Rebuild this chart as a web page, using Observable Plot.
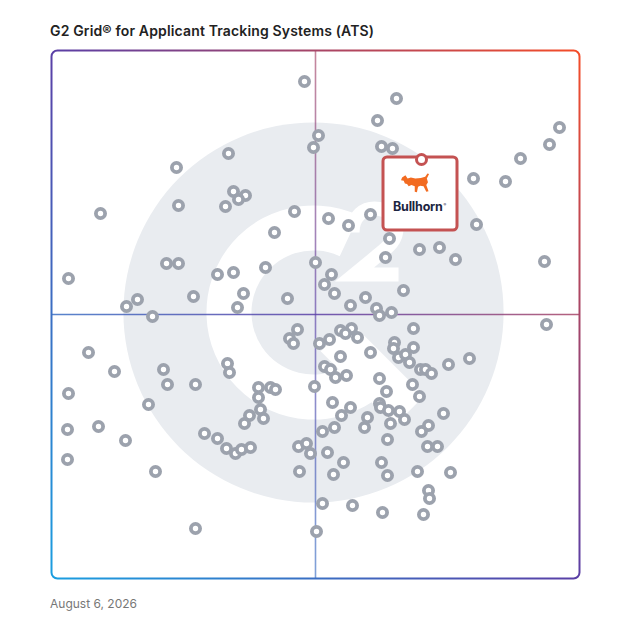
<!DOCTYPE html>
<html><head><meta charset="utf-8">
<script src="https://cdn.jsdelivr.net/npm/d3@7"></script>
<script src="https://cdn.jsdelivr.net/npm/@observablehq/plot@0.6"></script>
<style>
body{margin:0;background:#fff;}
#title{font:600 14px Inter,"Noto Sans",sans-serif;letter-spacing:0.15px;color:#222;padding:21px 0 0 50px;height:19px;line-height:19px;white-space:nowrap;}
#chart svg{display:block;}
#caption{font:400 12px Inter,"Noto Sans",sans-serif;color:#777;padding-left:50px;margin-top:6px;line-height:16px;}
</style></head><body>
<div id="title">G2 Grid® for Applicant Tracking Systems (ATS)</div>
<div id="chart"></div>
<div id="caption">August 6, 2026</div>
<script>
// Satisfaction (x) and Market Presence (y) scores
const satisfaction = [
50.6,69.0,65.2,101.6,53.4,99.6,52.4,66.0,68.2,35.4,
93.8,25.0,84.4,90.8,36.4,38.8,37.4,34.8,25.4,9.8,
48.6,55.4,63.8,59.4,85.0,44.6,67.6,73.6,77.6,80.8,
66.8,23.0,25.4,52.8,98.6,33.2,36.4,42.8,56.0,54.6,
56.6,3.4,38.4,28.4,47.2,70.4,17.2,15.0,37.2,59.8,
62.8,65.0,65.6,68.0,20.2,99.0,72.4,57.8,60.0,58.8,
61.2,53.6,55.6,63.8,57.8,68.6,68.4,72.4,69.4,70.8,
71.6,79.4,83.6,54.6,55.8,56.8,59.0,73.8,74.8,76.0,
65.6,52.6,67.0,72.2,73.6,56.2,59.8,58.0,65.6,65.8,
67.4,69.6,70.6,67.8,78.4,63.2,62.6,75.4,74.0,54.2,
56.6,67.2,75.2,77.2,55.2,58.4,66.0,56.4,67.2,73.2,
79.8,75.4,75.6,54.2,60.2,66.2,74.4,53.0,28.8,49.2,
47.6,48.4,7.4,12.6,22.4,23.2,28.8,35.2,35.6,41.4,
41.4,43.8,44.8,19.4,3.4,3.2,9.4,3.2,14.8,20.8,
30.6,33.2,35.0,36.8,38.0,39.8,39.6,38.6,41.8,42.4,
49.4,51.0,51.8,49.6];
const marketPresence = [
99.4,96.0,91.6,90.2,88.6,86.8,86.2,86.4,86.0,85.0,
84.0,82.2,80.0,79.4,77.4,76.6,75.8,74.4,74.6,73.0,
73.4,72.0,72.8,70.6,70.8,69.2,68.0,65.8,66.2,63.8,
64.2,63.0,63.0,63.2,63.4,60.8,61.2,62.2,60.8,58.8,
57.0,60.0,57.0,56.4,56.0,57.6,55.8,54.4,54.2,54.6,
56.2,54.0,52.6,53.2,52.4,50.8,50.0,49.6,50.0,49.0,
48.2,47.0,47.8,45.2,44.4,47.2,46.0,46.2,44.2,44.8,
43.2,42.8,44.0,42.4,41.8,40.2,40.6,41.8,41.8,41.0,
40.0,38.4,37.4,38.8,36.4,35.2,34.2,32.6,35.0,34.2,
33.6,33.4,31.8,31.0,33.0,32.2,30.2,30.6,29.4,29.4,
30.2,27.8,26.4,26.4,25.2,23.2,23.2,20.8,20.6,21.4,
21.2,17.6,16.0,15.0,14.6,13.2,12.8,9.4,10.0,49.8,
48.0,47.0,45.2,41.4,41.8,38.8,38.8,43.0,41.2,38.2,
36.2,38.2,37.8,34.8,37.0,29.8,30.4,23.8,27.6,21.4,
29.0,28.0,26.0,25.0,25.8,26.2,32.6,31.0,33.8,32.0,
26.4,27.0,25.0,21.4];
const highlightName = "Bullhorn";
const highlightSatisfaction = 74.0;
const highlightPresence = 83.8;
const scoreMax = 105.6;
const midScore = 52.8;

const products = satisfaction.map((s, i) => ({s, m: marketPresence[i]}));
const highlight = [{name: highlightName, s: highlightSatisfaction, m: highlightPresence}];

const NS = "http://www.w3.org/2000/svg";
function el(tag, attrs, parent) {
  const e = document.createElementNS(NS, tag);
  for (const k in attrs) e.setAttribute(k, attrs[k]);
  if (parent) parent.appendChild(e);
  return e;
}

function gradientDefs(index, scales, values, dim) {
  const defs = el("defs", {});
  const lg = el("linearGradient", {id: "g2grad", gradientUnits: "userSpaceOnUse",
    x1: dim.marginLeft, y1: dim.height - dim.marginBottom,
    x2: dim.width - dim.marginRight, y2: dim.marginTop}, defs);
  el("stop", {offset: "0", "stop-color": "#1a9ee0"}, lg);
  el("stop", {offset: "0.5", "stop-color": "#5a3fa6"}, lg);
  el("stop", {offset: "1", "stop-color": "#f44c28"}, lg);
  return defs;
}

function watermark(index, {x, y}) {
  const g = el("g", {});
  const cx = x(midScore) - 1.5, cy = y(midScore) - 1.5;
  const R = (x(scoreMax) - x(0)) * 0.36;
  const u = R / 190;
  el("circle", {cx, cy, r: R, fill: "#e9ecf0"}, g);
  const ri = 62 * u, ro = 107 * u;
  const a0 = 40 * Math.PI / 180, a1 = 295 * Math.PI / 180;
  const p = (r, a) => `${cx + r * Math.cos(a)},${cy + r * Math.sin(a)}`;
  el("path", {d: `M${p(ro, a0)}A${ro},${ro} 0 1 1 ${p(ro, a1)}L${p(ri, a1)}A${ri},${ri} 0 1 0 ${p(ri, a0)}Z`, fill: "#fff"}, g);
  el("line", {x1: cx + 22 * u, y1: cy + 24 * u, x2: cx + 96 * u, y2: cy + 98 * u,
    stroke: "#fff", "stroke-width": 42 * u}, g);
  // the "2" of the logo, drawn as a shape
  const q = (a, b) => `${cx + a * u},${cy + b * u}`;
  el("path", {d: `M${q(39, -80)}C${q(39, -97)} ${q(51, -104)} ${q(61, -104)}C${q(73, -104)} ${q(83, -96)} ${q(83, -84)}C${q(83, -72)} ${q(75, -66)} ${q(63, -56)}L${q(41, -38)}L${q(85, -38)}`,
    fill: "none", stroke: "#fff", "stroke-width": 14 * u, "stroke-linejoin": "miter"}, g);
  return g;
}

function highlightBox(index, {x, y}) {
  const g = el("g", {});
  const px = x(highlightSatisfaction), py = y(highlightPresence);
  el("rect", {x: px - 38, y: py - 2, width: 74, height: 73, rx: 4,
    fill: "#fff", stroke: "#c45252", "stroke-width": 3}, g);
  const bull = el("g", {transform: `translate(${px - 20},${py + 14}) scale(1.1)`}, g);
  el("path", {d: "M1,4 L4,2 L6,5 L9,4 L13,5 L18,4.5 L22,3.5 L24,0.5 L25.5,1 L23.5,5 L24.5,8.5 L23,11 L25,16.5 L23,17 L20.5,12 L17.5,11.5 L15.5,12.5 L14.5,17.5 L12.5,17 L12.5,12 L9.5,11 L7,12 L5.5,10 L3.5,9.5 L2.5,7 L0,6.5 Z",
    fill: "#f26b21"}, bull);
  const t = el("text", {x: px - 1.5, y: py + 52, "text-anchor": "middle", fill: "#1c2541",
    "font-size": 12.5, "font-weight": 700, "font-family": "Inter, sans-serif", "letter-spacing": "-0.2"}, g);
  t.appendChild(document.createTextNode(highlightName));
  const reg = el("tspan", {"font-size": 4, dy: -5, dx: 0.8, "font-weight": 400}, t);
  reg.textContent = "®";
  return g;
}

const chart = Plot.plot({
  width: 628, height: 550,
  marginLeft: 51, marginRight: 49, marginTop: 10, marginBottom: 12,
  x: {domain: [0, scoreMax], axis: null},
  y: {domain: [0, scoreMax], axis: null},
  style: {background: "#fff", overflow: "visible"},
  marks: [
    gradientDefs,
    watermark,
    Plot.ruleX([midScore], {stroke: "url(#g2grad)", strokeWidth: 1.6, strokeOpacity: 0.65}),
    Plot.ruleY([midScore], {stroke: "url(#g2grad)", strokeWidth: 1.6, strokeOpacity: 0.85}),
    Plot.frame({stroke: "url(#g2grad)", strokeWidth: 2, rx: 6}),
    Plot.dot(products, {x: "s", y: "m", r: 4.6, fill: "#fff", stroke: "#9ca2ad", strokeWidth: 3.8}),
    highlightBox,
    Plot.dot(highlight, {x: "s", y: "m", r: 5, fill: "#fff", stroke: "#c45252", strokeWidth: 3})
  ]
});
document.getElementById("chart").appendChild(chart);
</script>
</body></html>
